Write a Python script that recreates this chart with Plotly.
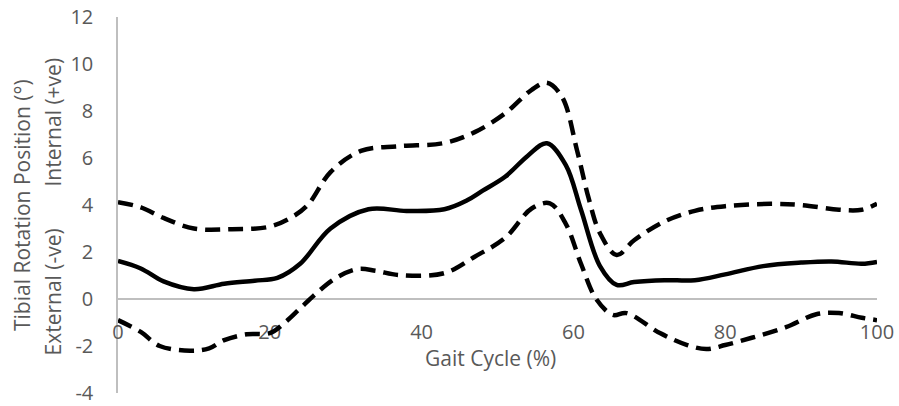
import plotly.graph_objects as go

# Mean tibial rotation (solid)
mean_x = [0, 3, 6, 10, 14, 18, 21, 24, 28, 33, 38, 43, 46, 48, 51, 54, 56.5, 59, 61, 63.5, 65.7, 68, 72, 76, 80, 85, 90, 94, 98, 100]
mean_y = [1.62, 1.3, 0.75, 0.42, 0.65, 0.78, 0.9, 1.5, 3.0, 3.82, 3.75, 3.82, 4.2, 4.6, 5.2, 6.1, 6.63, 5.7, 3.8, 1.4, 0.6, 0.72, 0.8, 0.8, 1.05, 1.4, 1.55, 1.6, 1.5, 1.58]

# Upper bound (dashed)
upper_x = [0, 3, 6, 10, 15, 20, 23, 25, 28, 32, 37, 43, 47, 51, 54.5, 56.5, 58.5, 60.5, 62, 63.5, 65.7, 68, 72, 76, 80, 86, 90, 95, 98, 100]
upper_y = [4.12, 3.9, 3.45, 3.0, 2.97, 3.08, 3.5, 4.0, 5.4, 6.3, 6.5, 6.64, 7.1, 7.9, 8.9, 9.2, 8.6, 6.3, 4.3, 2.8, 1.87, 2.5, 3.3, 3.75, 3.95, 4.05, 4.0, 3.8, 3.8, 4.05]

# Lower bound (dashed)
lower_x = [0, 3, 5.5, 9.5, 12, 14, 17, 20, 22, 24, 26, 28.5, 31.5, 34, 37, 43, 47, 51, 54.5, 56.9, 59, 61, 63, 65.2, 67, 71.4, 75, 77.5, 80, 83.5, 88, 92, 95, 98, 100]
lower_y = [-0.9, -1.4, -2.0, -2.2, -2.1, -1.75, -1.5, -1.45, -1.0, -0.4, 0.2, 0.85, 1.27, 1.2, 1.02, 1.1, 1.8, 2.6, 3.85, 4.07, 3.2, 1.5, 0.0, -0.68, -0.6, -1.45, -1.96, -2.13, -1.96, -1.65, -1.2, -0.65, -0.6, -0.8, -0.9]

x_ticks = [0, 20, 40, 60, 80, 100]
y_ticks = [-4, -2, 0, 2, 4, 6, 8, 10, 12]

FONT = "Open Sans"
GREY = "#595959"
AXIS = "#bfbfbf"
FS = 20

fig = go.Figure()
dash = "15px,8px"
fig.add_trace(go.Scatter(x=upper_x, y=upper_y, mode="lines",
                         line=dict(color="black", width=4.5, dash=dash, shape="spline", smoothing=1.0),
                         showlegend=False, hoverinfo="skip", cliponaxis=False))
fig.add_trace(go.Scatter(x=lower_x, y=lower_y, mode="lines",
                         line=dict(color="black", width=4.5, dash=dash, shape="spline", smoothing=1.0),
                         showlegend=False, hoverinfo="skip", cliponaxis=False))
fig.add_trace(go.Scatter(x=mean_x, y=mean_y, mode="lines",
                         line=dict(color="black", width=4.5, shape="spline", smoothing=1.0),
                         showlegend=False, hoverinfo="skip", cliponaxis=False))

fig.update_layout(
    width=899, height=406,
    margin=dict(l=118, r=22, t=17, b=13, autoexpand=False),
    paper_bgcolor="white", plot_bgcolor="white",
    font=dict(family=FONT, size=FS, color=GREY),
    xaxis=dict(range=[0, 100], tickvals=x_ticks, ticktext=[str(v) for v in x_ticks],
               showgrid=False, zeroline=False, showline=True, linecolor=AXIS, linewidth=1.5,
               ticks="", anchor="free", position=0.25, layer="below traces", automargin=False,
               ticklabelstandoff=15, ticklabeloverflow="allow",
               tickfont=dict(family=FONT, size=FS, color=GREY)),
    yaxis=dict(range=[-4, 12], tickvals=y_ticks, ticktext=[str(v) for v in y_ticks],
               showgrid=False, zeroline=False, showline=True, linecolor=AXIS, linewidth=1.5,
               ticks="", layer="below traces", domain=[0, 1], automargin=False,
               ticklabelstandoff=19, ticklabeloverflow="allow",
               tickfont=dict(family=FONT, size=FS, color=GREY)),
)

ann_font = dict(family=FONT, size=FS + 1, color=GREY)
fig.add_annotation(text="Tibial Rotation Position (°)", xref="paper", yref="paper",
                   x=(22 - 118) / 759, y=(393 - 205) / 376, xanchor="center", yanchor="middle",
                   textangle=-90, showarrow=False, font=ann_font)
fig.add_annotation(text="External (-ve)", xref="paper", yref="paper",
                   x=(52 - 118) / 759, y=(393 - 292.5) / 376, xanchor="center", yanchor="middle",
                   textangle=-90, showarrow=False, font=ann_font)
fig.add_annotation(text="Internal (+ve)", xref="paper", yref="paper",
                   x=(52 - 118) / 759, y=(393 - 122.5) / 376, xanchor="center", yanchor="middle",
                   textangle=-90, showarrow=False, font=ann_font)
fig.add_annotation(text="Gait Cycle (%)", xref="paper", yref="paper",
                   x=(490 - 118) / 759, y=(393 - 358) / 376, xanchor="center", yanchor="middle",
                   showarrow=False, font=ann_font)

fig.write_html("out.html")
